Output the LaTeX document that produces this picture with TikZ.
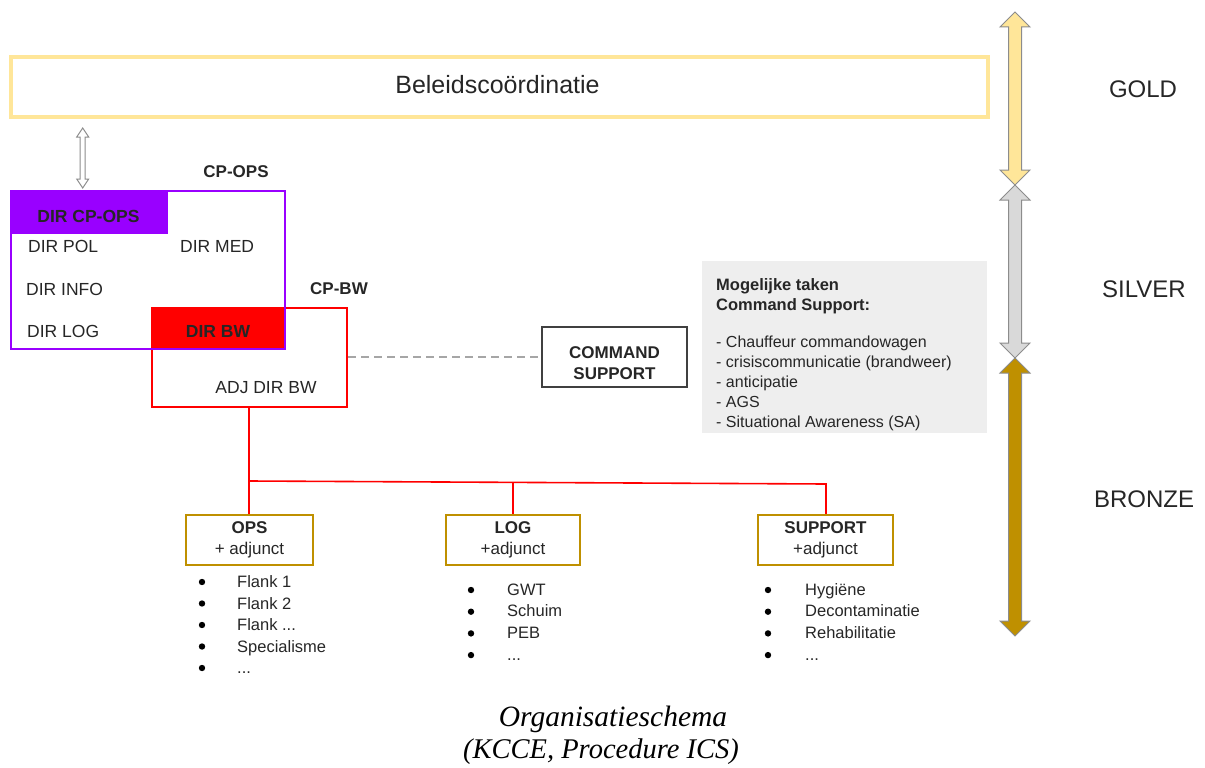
\documentclass[tikz,border=0pt]{standalone}
\usepackage{fontspec}
\setmainfont{Liberation Sans}
\newfontfamily\captionserif{Liberation Serif}

\definecolor{ink}{HTML}{262626}
\definecolor{goldline}{HTML}{FFE699}
\definecolor{goldfill}{HTML}{FFE699}
\definecolor{silverfill}{HTML}{D9D9D9}
\definecolor{bronzefill}{HTML}{BF9000}
\definecolor{arrowedge}{HTML}{8C8C8C}
\definecolor{violetcp}{HTML}{9900FF}
\definecolor{redbw}{HTML}{FF0000}
\definecolor{unitgold}{HTML}{BF9000}
\definecolor{panelgray}{HTML}{EEEEEE}
\definecolor{dashgray}{HTML}{A6A6A6}
\definecolor{cmdline}{HTML}{404040}

% three dots kept out of \foreach's own "..." syntax
\newcommand\moredots{...}

% vertical double arrow: x, top, bottom, shaft half width, head half width, head length, fill, edge
\newcommand\tierarrow[8]{%
  \filldraw[draw=#8, fill=#7, line width=1pt, line join=miter]
    (#1,#2) -- (#1+#5,#2+#6) -- (#1+#4,#2+#6) -- (#1+#4,#3-#6) -- (#1+#5,#3-#6)
    -- (#1,#3) -- (#1-#5,#3-#6) -- (#1-#4,#3-#6) -- (#1-#4,#2+#6) -- (#1-#5,#2+#6) -- cycle;}

\tikzset{
  plain/.style={inner sep=0pt, text=ink, font=\fontsize{17.5}{21}\selectfont},
  boldlbl/.style={plain, font=\fontsize{17.5}{21}\selectfont\bfseries},
  tier/.style={inner sep=0pt, text=ink, font=\fontsize{24}{28}\selectfont, anchor=base},
  frame/.style={inner sep=0pt, minimum width=#1},
  unitbox/.style={draw=unitgold, line width=2.5pt, inner sep=0pt, minimum height=50pt,
    align=center, text=ink, font=\fontsize{17}{21}\selectfont},
  item/.style={inner sep=0pt, text=ink, font=\fontsize{16.5}{20}\selectfont, anchor=base west},
  redlink/.style={draw=redbw, line width=1.6pt},
}

\begin{document}
\begin{tikzpicture}[x=1pt, y=-1pt]
\useasboundingbox (0,0) rectangle (1205,768);

% policy level
\node[frame=977pt, minimum height=60pt, draw=goldline, line width=3.5pt] (beleid) at (499.5,87) {};
\node[plain, font=\fontsize{25}{30}\selectfont, anchor=base] (beleidtxt) at (497.5,93) {Beleidscoördinatie};

% link between policy and CP-OPS
\tierarrow{82.7}{128}{188}{2.5}{6}{9}{white}{arrowedge}

% CP-BW box (behind CP-OPS)
\node[frame=195pt, minimum height=99pt, draw=redbw, line width=2pt] (cpbw) at (249.5,357.5) {};
\node[frame=133pt, minimum height=41pt, fill=redbw] (dirbwbg) at (218.5,328.5) {};
% CP-OPS box
\node[frame=157.3pt, minimum height=43pt, fill=violetcp] (dircpopsbg) at (89.35,212.5) {};
\node[frame=274.3pt, minimum height=158pt, draw=violetcp, line width=2pt] (cpops) at (147.85,270) {};

\node[boldlbl, font=\fontsize{17}{21}\selectfont\bfseries, anchor=base] (cpopslbl) at (236,177) {CP-OPS};
\node[boldlbl, font=\fontsize{17}{21}\selectfont\bfseries, anchor=base west] (cpbwlbl) at (310,294) {CP-BW};
\node[boldlbl, anchor=base] (dircpops) at (88.5,222) {DIR CP-OPS};
\node[plain, anchor=base west] (dirpol) at (28,252) {DIR POL};
\node[plain, anchor=base west] (dirmed) at (180,252) {DIR MED};
\node[plain, anchor=base west] (dirinfo) at (26,295) {DIR INFO};
\node[plain, anchor=base west] (dirlog) at (27,337) {DIR LOG};
\node[boldlbl, anchor=base] (dirbw) at (218,337) {DIR BW};
\node[plain, anchor=base] (adjdirbw) at (266,393) {ADJ DIR BW};

% command support
\node[frame=145pt, minimum height=60pt, draw=cmdline, line width=2pt] (cmd) at (614.5,357) {};
\node[boldlbl, font=\fontsize{17}{21}\selectfont\bfseries, align=center] (cmdtxt) at (614.5,363) {COMMAND\\SUPPORT};
\draw[dashgray, line width=1.5pt, dash pattern=on 8pt off 5pt] (cmd.west -| cpbw.east) -- (cmd.west);

% tasks panel
\node[frame=285pt, minimum height=172pt, fill=panelgray] (panel) at (844.5,347) {};
\node[plain, font=\fontsize{16}{20}\selectfont, align=left, anchor=north west] (tasks) at (716,278)
  {{\fontsize{16.5}{20}\selectfont\bfseries Mogelijke taken}\\{\fontsize{16.5}{20}\selectfont\bfseries Command Support:}\\[17pt]
   - Chauffeur commandowagen\\
   - crisiscommunicatie (brandweer)\\
   - anticipatie\\
   - AGS\\
   - Situational Awareness (SA)};

% units
\node[unitbox, minimum width=127pt] (ops) at (249.5,540) {\textbf{OPS}\\+ adjunct};
\node[unitbox, minimum width=134pt] (log) at (513,540) {\textbf{LOG}\\+adjunct};
\node[unitbox, minimum width=135pt] (sup) at (825.5,540) {\textbf{SUPPORT}\\+adjunct};

% red hierarchy lines
\coordinate (j1) at (249,481);
\coordinate (j2) at (513,482.5);
\coordinate (j3) at (826,484);
\draw[redlink] (j1 |- cpbw.south) -- (j1) -- (j1 |- ops.north);
\draw[redlink] (j1) -- (j3) -- (j3 |- sup.north);
\draw[redlink] (j2) -- (log.north);

% task lists
\foreach \t [count=\i] in {Flank 1, Flank 2, Flank \moredots, Specialisme, \moredots} {
  \node[item] (opsitem\i) at (237,587.5+21.5*\i-21.5) {\t};
  \fill[black] (202,582+21.5*\i-21.5) circle (3.2pt);
}
\foreach \t [count=\i] in {GWT, Schuim, PEB, \moredots} {
  \node[item] (logitem\i) at (507,595+21.7*\i-21.7) {\t};
  \fill[black] (471,590+21.7*\i-21.7) circle (3.2pt);
}
\foreach \t [count=\i] in {Hygiëne, Decontaminatie, Rehabilitatie, \moredots} {
  \node[item] (supitem\i) at (805,595+21.7*\i-21.7) {\t};
  \fill[black] (768,590+21.7*\i-21.7) circle (3.2pt);
}

% command levels
\tierarrow{1015}{12}{185}{6.5}{15}{15}{goldfill}{arrowedge}
\tierarrow{1015}{185}{358}{6.5}{15}{15}{silverfill}{arrowedge}
\tierarrow{1015}{358}{636}{6.5}{15}{15}{bronzefill}{arrowedge}
\node[tier] (gold) at (1143,97) {GOLD};
\node[tier] (silver) at (1144,297) {SILVER};
\node[tier] (bronze) at (1144,507) {BRONZE};

% caption
\node[inner sep=0pt, font=\captionserif\itshape\fontsize{29.5}{32}\selectfont, anchor=base] (cap1) at (613,726) {Organisatieschema};
\node[inner sep=0pt, font=\captionserif\itshape\fontsize{28.5}{32}\selectfont, anchor=base] (cap2) at (601,758) {(KCCE, Procedure ICS)};
\end{tikzpicture}
\end{document}
